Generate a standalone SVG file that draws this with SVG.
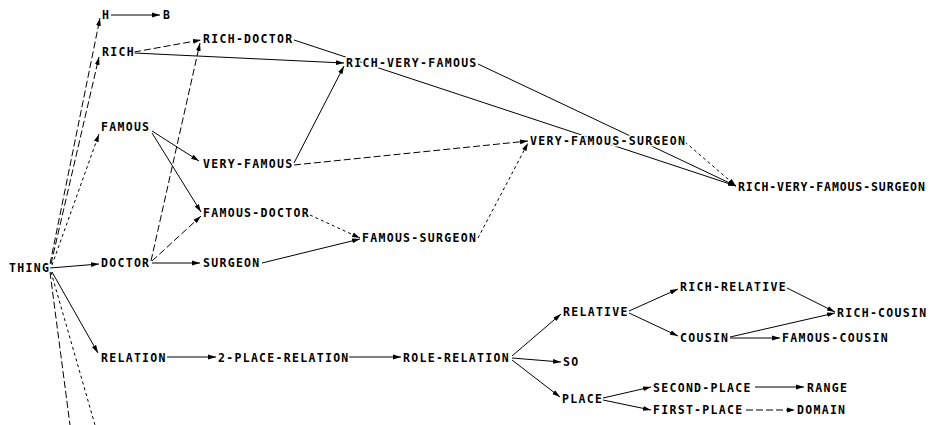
<svg xmlns="http://www.w3.org/2000/svg" width="933" height="425" viewBox="0 0 933 425">
<defs>
<marker id="ah" viewBox="0 0 8 6" refX="8" refY="3" markerWidth="8" markerHeight="6" markerUnits="userSpaceOnUse" orient="auto">
<path d="M0,0.6 L8,3 L0,5.4 z" fill="#000"/>
</marker>
<style>
.e{stroke:#000;stroke-width:1;fill:none;marker-end:url(#ah)}
.n{stroke:#000;stroke-width:1;fill:none}
.d{stroke-dasharray:7 3}
.dd{stroke-dasharray:3 3}
text{font-family:"DejaVu Sans Mono","Liberation Mono",monospace;font-weight:bold;font-size:11.5px;letter-spacing:1.3px;fill:#000;stroke:#fff;stroke-width:3px;paint-order:stroke;stroke-linejoin:round}
.tight{letter-spacing:0.9px}
</style>
</defs>
<rect width="933" height="425" fill="#fff"/>
<g id="connectors">
<line class="e d" x1="50" y1="264" x2="100" y2="18"/>
<line class="e d" x1="51" y1="264" x2="99" y2="57"/>
<line class="e dd" x1="52" y1="265" x2="99" y2="134"/>
<line class="e" x1="50" y1="268" x2="99" y2="264"/>
<line class="e" x1="52" y1="272" x2="98" y2="353"/>
<line class="n d" x1="50" y1="272" x2="70" y2="425"/>
<line class="n dd" x1="51" y1="272" x2="95" y2="425"/>
<line class="e" x1="111" y1="15" x2="160" y2="15"/>
<line class="e d" x1="134" y1="52" x2="201" y2="40"/>
<line class="e" x1="134" y1="53" x2="344" y2="63"/>
<line class="e d" x1="151" y1="261" x2="200" y2="43"/>
<line class="e d" x1="152" y1="261" x2="201" y2="216"/>
<line class="e" x1="152" y1="263" x2="200" y2="263"/>
<line class="e" x1="152" y1="131" x2="199" y2="161"/>
<line class="e" x1="152" y1="133" x2="201" y2="212"/>
<line class="e" x1="294" y1="163" x2="344" y2="66"/>
<line class="e d" x1="294" y1="165" x2="528" y2="141"/>
<line class="e" x1="294" y1="40" x2="736" y2="186"/>
<line class="e" x1="478" y1="64" x2="736" y2="186"/>
<line class="e dd" x1="685" y1="142" x2="736" y2="186"/>
<line class="e dd" x1="310" y1="215" x2="360" y2="238"/>
<line class="e" x1="262" y1="263" x2="360" y2="239"/>
<line class="e dd" x1="478" y1="238" x2="528" y2="143"/>
<line class="e" x1="167" y1="357" x2="216" y2="357"/>
<line class="e" x1="347" y1="357" x2="401" y2="357"/>
<line class="e" x1="512" y1="356" x2="561" y2="314"/>
<line class="e" x1="512" y1="358" x2="561" y2="362"/>
<line class="e" x1="512" y1="360" x2="560" y2="397"/>
<line class="e" x1="629" y1="311" x2="678" y2="289"/>
<line class="e" x1="629" y1="313" x2="678" y2="336"/>
<line class="e" x1="787" y1="288" x2="835" y2="312"/>
<line class="e" x1="730" y1="337" x2="835" y2="313"/>
<line class="e" x1="730" y1="338" x2="780" y2="338"/>
<line class="e" x1="603" y1="398" x2="651" y2="387"/>
<line class="e" x1="603" y1="400" x2="651" y2="410"/>
<line class="e" x1="755" y1="387" x2="804" y2="387"/>
<line class="e d" x1="746" y1="410" x2="795" y2="410"/>
</g>
<g id="n-h"><text x="102" y="19">H</text></g>
<g id="n-b"><text x="163" y="19">B</text></g>
<g id="n-rich"><text x="102" y="56">RICH</text></g>
<g id="n-rich-doctor"><text x="203" y="43">RICH-DOCTOR</text></g>
<g id="n-rich-very-famous"><text x="346" y="67">RICH-VERY-FAMOUS</text></g>
<g id="n-famous"><text x="101" y="131">FAMOUS</text></g>
<g id="n-very-famous"><text x="203" y="168">VERY-FAMOUS</text></g>
<g id="n-very-famous-surgeon"><text x="530" y="145">VERY-FAMOUS-SURGEON</text></g>
<g id="n-rich-very-famous-surgeon"><text class="tight" x="738" y="191">RICH-VERY-FAMOUS-SURGEON</text></g>
<g id="n-famous-doctor"><text x="203" y="217">FAMOUS-DOCTOR</text></g>
<g id="n-famous-surgeon"><text x="362" y="242">FAMOUS-SURGEON</text></g>
<g id="n-thing"><text x="9" y="272">THING</text></g>
<g id="n-doctor"><text x="101" y="267">DOCTOR</text></g>
<g id="n-surgeon"><text x="203" y="267">SURGEON</text></g>
<g id="n-relation"><text x="101" y="362">RELATION</text></g>
<g id="n-2-place-relation"><text x="218" y="362">2-PLACE-RELATION</text></g>
<g id="n-role-relation"><text x="403" y="362">ROLE-RELATION</text></g>
<g id="n-relative"><text x="563" y="316">RELATIVE</text></g>
<g id="n-so"><text x="563" y="366">SO</text></g>
<g id="n-place"><text x="562" y="403">PLACE</text></g>
<g id="n-rich-relative"><text x="680" y="291">RICH-RELATIVE</text></g>
<g id="n-cousin"><text x="680" y="342">COUSIN</text></g>
<g id="n-rich-cousin"><text x="837" y="317">RICH-COUSIN</text></g>
<g id="n-famous-cousin"><text x="782" y="342">FAMOUS-COUSIN</text></g>
<g id="n-second-place"><text x="653" y="392">SECOND-PLACE</text></g>
<g id="n-range"><text x="807" y="392">RANGE</text></g>
<g id="n-first-place"><text x="653" y="414">FIRST-PLACE</text></g>
<g id="n-domain"><text x="797" y="414">DOMAIN</text></g>
</svg>
